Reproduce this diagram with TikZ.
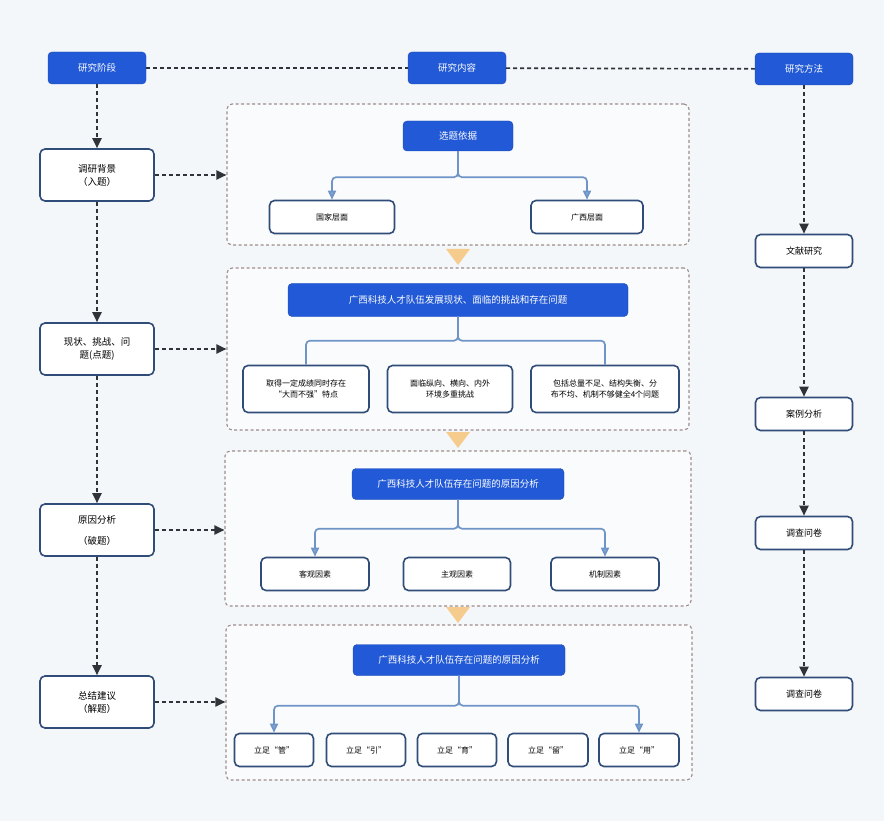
\documentclass[tikz,border=0pt]{standalone}
\usepackage{fontspec}
\setmainfont{Noto Sans CJK SC}
\usetikzlibrary{arrows.meta,positioning,calc}

\definecolor{bgc}{HTML}{F4F7F9}
\definecolor{hdblue}{HTML}{2159D6}
\definecolor{navy}{HTML}{304C78}
\definecolor{treeblue}{HTML}{6F95C8}
\definecolor{framec}{HTML}{9E8C8C}
\definecolor{trifill}{HTML}{F6CB8E}
\definecolor{arrc}{HTML}{30343A}

\begin{document}
\begin{tikzpicture}[x=1pt, y=-1pt,
  font=\fontsize{9.5}{13}\selectfont,
  stage/.style={rectangle, rounded corners=4pt, draw=hdblue!85!black, fill=hdblue,
                text=white, minimum width=98pt, minimum height=32pt, inner sep=0pt},
  head/.style={rectangle, rounded corners=4pt, draw=hdblue!85!black, fill=hdblue,
               text=white, minimum height=31pt, inner sep=0pt},
  phase/.style={rectangle, rounded corners=5pt, draw=navy, line width=1.6pt, fill=white,
                minimum width=114pt, minimum height=52pt, align=center, inner sep=0pt},
  method/.style={rectangle, rounded corners=5pt, draw=navy, line width=1.6pt, fill=white,
                 minimum width=97pt, minimum height=33pt, inner sep=0pt,
                 font=\fontsize{9}{12}\selectfont},
  item/.style={rectangle, rounded corners=5pt, draw=navy, line width=1.6pt, fill=white,
               minimum height=33pt, align=center, inner sep=0pt,
               font=\fontsize{8}{11}\selectfont},
  sect/.style={rectangle, rounded corners=5pt, draw=framec, line width=1.1pt,
               dash pattern=on 3pt off 2.5pt, fill=white!55!bgc, inner sep=0pt},
  dar/.style={draw=arrc, line width=2pt, dash pattern=on 4pt off 3pt,
              -{Triangle[length=10pt, width=9pt]}},
  dline/.style={draw=arrc, line width=1.7pt, dash pattern=on 4pt off 3pt},
  tree/.style={draw=treeblue, line width=1.7pt, rounded corners=4pt},
  tarr/.style={tree, -{Triangle[length=9pt, width=8pt, fill=treeblue!85!white]}}
]
\fill[bgc] (0,0) rectangle (884,821);
\useasboundingbox (0,0) rectangle (884,821);

% top row
\node[stage] (jd) at (97,68)  {研究阶段};
\node[stage] (nr) at (457,68) {研究内容};
\node[stage] (ff) at (804,69) {研究方法};
\draw[dline] (jd) -- (nr);
\draw[dline] (nr) -- (ff);

% content frames
\node[sect, minimum width=462pt, minimum height=141pt] (s1) at (458,174.5) {};
\node[sect, minimum width=462pt, minimum height=162pt] (s2) at (458,349) {};
\node[sect, minimum width=466pt, minimum height=155pt] (s3) at (458,528.5) {};
\node[sect, minimum width=466pt, minimum height=155pt] (s4) at (459,702.5) {};
\foreach \ty in {249,432,607}
  \fill[trifill] (446,\ty) -- ++(24,0) -- ++(-12,16) -- cycle;

% stages
\node[phase] (bj) at (97,175) {调研背景\\（入题）};
\node[phase] (xz) at (97,349) {现状、挑战、问\\题(点题)};
\node[phase] (yy) at (97,530) {原因分析\\[8pt]（破题）};
\node[phase] (zj) at (97,702) {总结建议\\（解题）};
\draw[dar] (jd) -- (bj);
\draw[dar] (bj) -- (xz);
\draw[dar] (xz) -- (yy);
\draw[dar] (yy) -- (zj);
\draw[dar] (bj.east) -- (bj.east -| s1.west);
\draw[dar] (xz.east) -- (xz.east -| s2.west);
\draw[dar] (yy.east) -- (yy.east -| s3.west);
\draw[dar] (zj.east) -- (zj.east -| s4.west);

% methods
\node[method] (wx)  at (804,251) {文献研究};
\node[method] (al)  at (804,414) {案例分析};
\node[method] (dc1) at (804,533) {调查问卷};
\node[method] (dc2) at (804,694) {调查问卷};
\draw[dar] (ff) -- (wx);
\draw[dar] (wx) -- (al);
\draw[dar] (al) -- (dc1);
\draw[dar] (dc1) -- (dc2);

% frame 1
\node[head, minimum width=110pt, minimum height=30pt] (xt) at (458,136) {选题依据};
\node[item, minimum width=125pt] (gj) at (332,217) {国家层面};
\node[item, minimum width=112pt] (gx) at (587,217) {广西层面};
\draw[tarr] (xt.south) -- ++(0,26) -| (gj.north);
\draw[tarr] (xt.south) -- ++(0,26) -| (gx.north);

% frame 2
\node[head, minimum width=340pt, minimum height=33pt] (xk) at (458,300)
  {广西科技人才队伍发展现状、面临的挑战和存在问题};
\node[item, minimum width=126pt, minimum height=47pt] (c1) at (306,389)
  {取得一定成绩同时存在\\“大而不强”特点};
\node[item, minimum width=125pt, minimum height=47pt] (c2) at (450,389)
  {面临纵向、横向、内外\\环境多重挑战};
\node[item, minimum width=148pt, minimum height=47pt] (c3) at (605,389)
  {包括总量不足、结构失衡、分\\布不均、机制不够健全4个问题};
\draw[tree] (xk.south) -- ++(0,24) -| (c1.north);
\draw[tree] (xk.south) -- ++(0,24) -| (c3.north);

% frame 3
\node[head, minimum width=212pt] (yf) at (458,484) {广西科技人才队伍存在问题的原因分析};
\node[item, minimum width=108pt] (kg) at (315,574) {客观因素};
\node[item, minimum width=107pt] (zg) at (457,574) {主观因素};
\node[item, minimum width=108pt] (jz) at (605,574) {机制因素};
\draw[tarr] (yf.south) -- ++(0,29) -| (kg.north);
\draw[tarr] (yf.south) -- ++(0,29) -| (jz.north);

% frame 4
\node[head, minimum width=212pt] (yf2) at (459,660) {广西科技人才队伍存在问题的原因分析};
\node[item, minimum width=79pt] (lg)  at (274,750) {立足“管”};
\node[item, minimum width=79pt] (ly)  at (366,750) {立足“引”};
\node[item, minimum width=79pt] (lyu) at (457,750) {立足“育”};
\node[item, minimum width=80pt] (ll)  at (548,750) {立足“留”};
\node[item, minimum width=80pt] (lu)  at (639,750) {立足“用”};
\draw[tarr] (yf2.south) -- ++(0,30) -| (lg.north);
\draw[tarr] (yf2.south) -- ++(0,30) -| (lu.north);
\end{tikzpicture}
\end{document}
